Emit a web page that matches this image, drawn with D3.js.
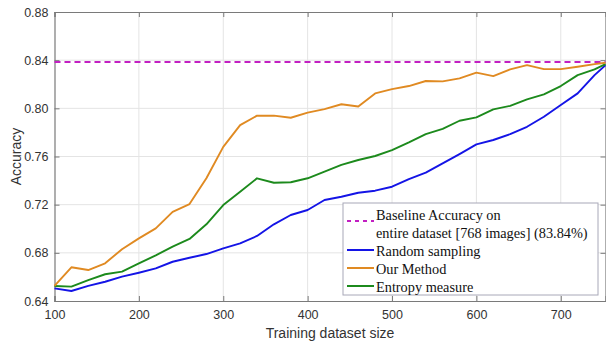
<!DOCTYPE html>
<html><head><meta charset="utf-8">
<script src="https://cdn.jsdelivr.net/npm/d3@7"></script>
<style>body{margin:0;background:#fff}svg{display:block}</style>
</head><body>
<script>
const sizes = [100,120,140,160,180,200,220,240,260,280,300,320,340,360,380,400,420,440,460,480,500,520,540,560,580,600,620,640,660,680,700,720,740,753];
const randomSampling = [0.6505,0.6483,0.6525,0.656,0.6602,0.6635,0.6671,0.6726,0.6759,0.679,0.6837,0.6879,0.694,0.7037,0.7114,0.7156,0.7239,0.7266,0.7299,0.7316,0.7349,0.7413,0.7466,0.7543,0.762,0.7701,0.7737,0.7786,0.7847,0.793,0.8027,0.8124,0.8276,0.8359];
const ourMethod = [0.6525,0.668,0.6657,0.6713,0.683,0.692,0.7003,0.714,0.7205,0.742,0.768,0.786,0.7939,0.7939,0.7922,0.7964,0.7994,0.8034,0.8015,0.8124,0.8160,0.8185,0.8227,0.8224,0.8249,0.8296,0.8268,0.8323,0.8359,0.8326,0.8326,0.8345,0.8367,0.8378];
const entropy = [0.6525,0.6519,0.6574,0.6622,0.6644,0.6713,0.6779,0.6851,0.6915,0.7037,0.7197,0.7308,0.7419,0.7382,0.7386,0.7419,0.7474,0.753,0.7571,0.7604,0.7653,0.7717,0.7786,0.783,0.7897,0.7925,0.7991,0.8021,0.8074,0.8116,0.8185,0.8276,0.8323,0.8367];
const baseline = 0.8384;
const xTicks = [100,200,300,400,500,600,700];
const yTicks = [0.64,0.68,0.72,0.76,0.80,0.84,0.88];
const legendLabels = [["Baseline Accuracy on","entire dataset [768 images] (83.84%)"],["Random sampling"],["Our Method"],["Entropy measure"]];
const colors = {base:"#c21fc2", random:"#1414e6", ours:"#e08a22", entropy:"#1c8a1c"};

const W=606,H=345;
const L=54.5,R=605.5,T=12,B=301;
const svg=d3.select("body").append("svg").attr("width",W).attr("height",H);
const x=d3.scaleLinear().domain([100,753]).range([L,R]);
const y=d3.scaleLinear().domain([0.64,0.88]).range([B,T]);

// grid
const g=svg.append("g");
g.selectAll(".gx").data(xTicks.slice(1)).enter().append("line")
 .attr("x1",d=>x(d)).attr("x2",d=>x(d)).attr("y1",T).attr("y2",B)
 .attr("stroke","#e4e4e4").attr("stroke-width",1);
g.selectAll(".gy").data(yTicks.slice(1,-1)).enter().append("line")
 .attr("x1",L).attr("x2",R).attr("y1",d=>y(d)).attr("y2",d=>y(d))
 .attr("stroke","#e4e4e4").attr("stroke-width",1);

// axes
const axCol="#7a7a7a";
const xa=svg.append("g").attr("transform",`translate(0,${B})`)
 .call(d3.axisBottom(x).tickValues(xTicks).tickSize(-5).tickPadding(9).tickFormat(d3.format("d")));
const xt=svg.append("g").attr("transform",`translate(0,${T})`)
 .call(d3.axisTop(x).tickValues(xTicks).tickSize(-5).tickFormat(""));
const ya=svg.append("g").attr("transform",`translate(${L},0)`)
 .call(d3.axisLeft(y).tickValues(yTicks).tickSize(-5).tickPadding(6).tickFormat(d3.format(".2f")));
const yr=svg.append("g").attr("transform",`translate(${R},0)`)
 .call(d3.axisRight(y).tickValues(yTicks).tickSize(-5).tickFormat(""));
[xa,xt,ya,yr].forEach(a=>{
  a.select(".domain").attr("stroke",axCol).attr("stroke-width",1.2);
  a.selectAll(".tick line").attr("stroke",axCol);
  a.selectAll("text").attr("fill","#333").attr("font-family","'Liberation Sans',Arial,sans-serif").attr("font-size","12.5px");
});

// baseline
svg.append("line").attr("x1",L).attr("x2",R).attr("y1",y(baseline)).attr("y2",y(baseline))
 .attr("stroke",colors.base).attr("stroke-width",2).attr("stroke-dasharray","6,4");

const line=d3.line().x((d,i)=>x(sizes[i])).y(d=>y(d));
[[randomSampling,colors.random],[entropy,colors.entropy],[ourMethod,colors.ours]].forEach(([s,c])=>{
  svg.append("path").attr("d",line(s)).attr("fill","none").attr("stroke",c).attr("stroke-width",1.9).attr("stroke-linejoin","round");
});

// labels
svg.append("text").attr("x",330).attr("y",338).attr("text-anchor","middle")
 .attr("font-family","'Liberation Sans',Arial,sans-serif").attr("font-size","14px").attr("fill","#333").text("Training dataset size");
svg.append("text").attr("transform",`translate(21,${(T+B)/2}) rotate(-90)`).attr("text-anchor","middle")
 .attr("font-family","'Liberation Sans',Arial,sans-serif").attr("font-size","14px").attr("fill","#333").text("Accuracy");

// legend
const lg=svg.append("g");
lg.append("rect").attr("x",343).attr("y",203).attr("width",255).attr("height",92)
 .attr("fill","#fff").attr("stroke","#a8a8b8").attr("stroke-width",1);
const tf="'Liberation Serif','Times New Roman',serif";
const rows=[{c:colors.base,dash:"4,4",ys:[214.5,232.5],sy:221},{c:colors.random,ys:[250.5],sy:250},{c:colors.ours,ys:[268.5],sy:268},{c:colors.entropy,ys:[286.5],sy:286}];
rows.forEach((r,i)=>{
  lg.append("line").attr("x1",347).attr("x2",374).attr("y1",r.sy).attr("y2",r.sy)
   .attr("stroke",r.c).attr("stroke-width",2).attr("stroke-dasharray",r.dash||null);
  legendLabels[i].forEach((t,j)=>{
    lg.append("text").attr("x",376).attr("y",r.ys[j]).attr("dy","0.35em")
     .attr("font-family",tf).attr("font-size","14.3px").attr("fill","#111").text(t);
  });
});
</script>
</body></html>
